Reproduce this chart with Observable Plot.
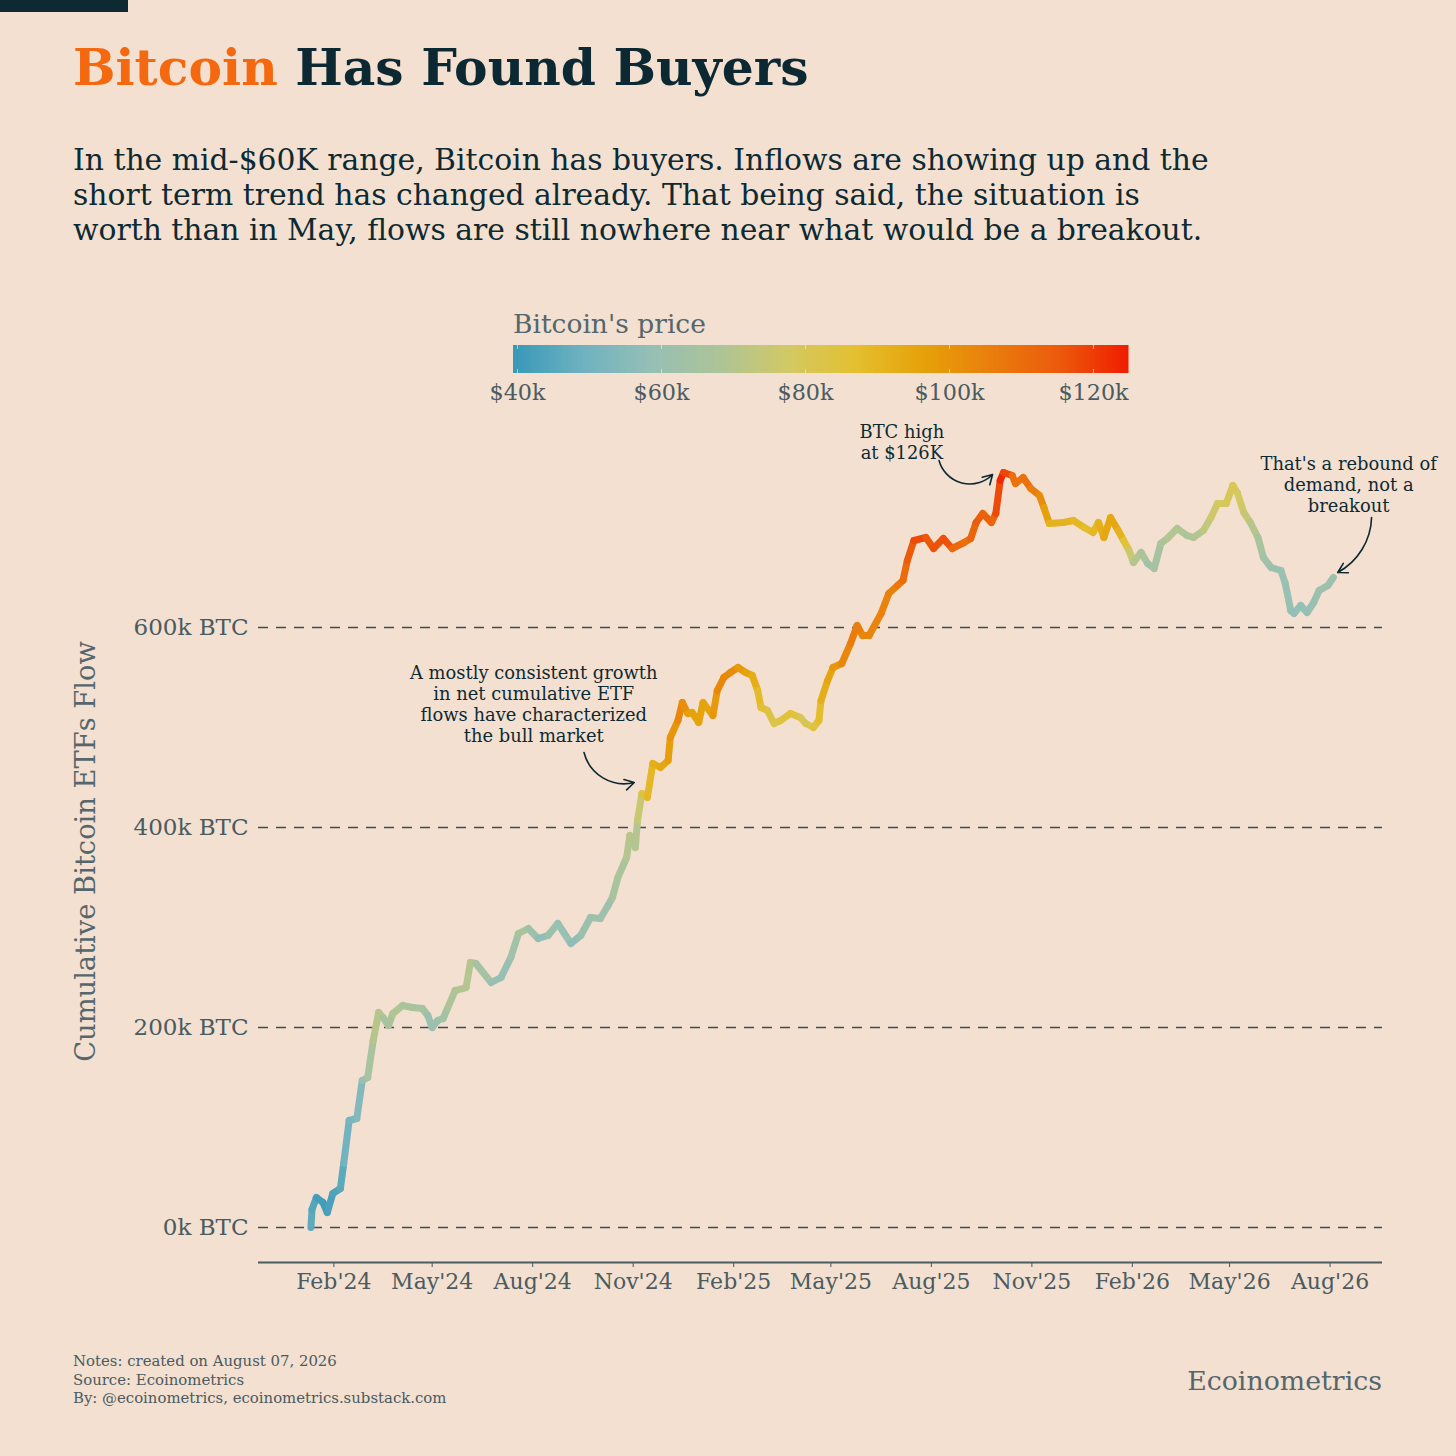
<!DOCTYPE html>
<html>
<head>
<meta charset="utf-8">
<script src="https://cdn.jsdelivr.net/npm/d3@7"></script>
<script src="https://cdn.jsdelivr.net/npm/@observablehq/plot@0.6"></script>
<style>
  body { margin: 0; background: #f3e0d0; }
  #page { position: relative; width: 1456px; height: 1456px; background: #f3e0d0;
          font-family: "DejaVu Serif", serif; color: #0d2a33; overflow: hidden; }
  .abs { position: absolute; white-space: nowrap; }
</style>
</head>
<body>
<div id="page">
  <div class="abs" style="left:0;top:0;width:128px;height:12px;background:#0d2a33"></div>
  <div class="abs" id="title" style="left:73px;top:38px;font-size:50.3px;line-height:60px;font-weight:bold;color:#0b2833">
    <span style="color:#f4690f">Bitcoin</span> Has Found Buyers</div>
  <div class="abs" id="sub" style="left:73px;top:142px;font-size:29.8px;line-height:35px">
    In the mid-$60K range, Bitcoin has buyers. Inflows are showing up and the<br>
    short term trend has changed already. That being said, the situation is<br>
    worth than in May, flows are still nowhere near what would be a breakout.</div>
  <div class="abs" style="left:513px;top:309px;font-size:26.5px;line-height:30px;color:#55666c">Bitcoin's price</div>
  <div class="abs" id="legend" style="left:480.5px;top:343px"></div>
  <div class="abs" id="vis" style="left:0;top:420px"></div>
  <div class="abs" style="left:73px;top:1352px;font-size:14.9px;line-height:18.5px;color:#4a5a60">
    Notes: created on August 07, 2026<br>Source: Ecoinometrics<br>By: @ecoinometrics, ecoinometrics.substack.com</div>
  <div class="abs" style="right:74px;top:1366px;font-size:26.8px;line-height:30px;color:#55666c">Ecoinometrics</div>
</div>
<script>
// cumulative spot bitcoin ETF flows (k BTC) and bitcoin price (k USD)
const dates = [
  "2024-01-11","2024-01-12","2024-01-16","2024-01-22","2024-01-26","2024-01-31","2024-02-07","2024-02-10",
  "2024-02-15","2024-02-22","2024-02-27","2024-03-03","2024-03-08","2024-03-13","2024-03-17","2024-03-22",
  "2024-03-26","2024-04-04","2024-04-13","2024-04-22","2024-04-27","2024-05-01","2024-05-06","2024-05-11",
  "2024-05-15","2024-05-22","2024-06-01","2024-06-05","2024-06-10","2024-06-24","2024-07-03","2024-07-12",
  "2024-07-19","2024-07-28","2024-08-06","2024-08-15","2024-08-24","2024-09-05","2024-09-14","2024-09-23",
  "2024-10-02","2024-10-09","2024-10-13","2024-10-18","2024-10-26","2024-10-29","2024-11-03","2024-11-05",
  "2024-11-09","2024-11-14","2024-11-19","2024-11-26","2024-12-03","2024-12-05","2024-12-12","2024-12-16",
  "2024-12-21","2024-12-25","2024-12-31","2025-01-04","2025-01-13","2025-01-17","2025-01-23","2025-01-29",
  "2025-02-05","2025-02-12","2025-02-18","2025-02-23","2025-02-26","2025-03-04","2025-03-10","2025-03-16",
  "2025-03-25","2025-04-03","2025-04-08","2025-04-15","2025-04-20","2025-04-22","2025-04-28","2025-05-03",
  "2025-05-11","2025-05-19","2025-05-25","2025-05-30","2025-06-05","2025-06-16","2025-06-23","2025-07-01",
  "2025-07-06","2025-07-10","2025-07-16","2025-07-27","2025-08-03","2025-08-12","2025-08-20","2025-08-31",
  "2025-09-06","2025-09-11","2025-09-17","2025-09-25","2025-09-29","2025-10-03","2025-10-06","2025-10-14",
  "2025-10-17","2025-10-24","2025-10-31","2025-11-08","2025-11-12","2025-11-17","2025-11-30","2025-12-09",
  "2025-12-19","2025-12-27","2026-01-01","2026-01-06","2026-01-12","2026-01-19","2026-01-24","2026-01-29",
  "2026-02-02","2026-02-09","2026-02-15","2026-02-21","2026-02-27","2026-03-05","2026-03-14","2026-03-23",
  "2026-03-29","2026-04-07","2026-04-14","2026-04-20","2026-04-28","2026-05-04","2026-05-08","2026-05-14",
  "2026-05-20","2026-05-27","2026-06-01","2026-06-08","2026-06-17","2026-06-21","2026-06-26","2026-06-29",
  "2026-07-05","2026-07-11","2026-07-17","2026-07-22","2026-07-30","2026-08-04"
];
const flowK = [
  0, 18, 30, 25, 15, 34, 39, 64,
  107, 109, 147, 150, 187, 215, 210, 202,
  214, 222, 220, 219, 212, 200, 207, 209,
  219, 237, 240, 265, 264, 245, 250, 270,
  294, 299, 289, 292, 304, 284, 292, 310,
  309, 322, 330, 350, 370, 392, 380, 407,
  434, 430, 464, 460, 467, 490, 507, 525,
  514, 515, 505, 525, 512, 537, 550, 555,
  560, 555, 552, 537, 520, 517, 504, 507,
  514, 510, 504, 500, 507, 527, 547, 560,
  564, 584, 602, 592, 592, 614, 634, 642,
  647, 667, 687, 690, 679, 689, 679, 685,
  689, 705, 714, 705, 714, 747, 755, 752,
  744, 750, 739, 732, 720, 704, 705, 707,
  700, 695, 705, 690, 710, 697, 687, 677,
  665, 675, 664, 659, 684, 689, 699, 692,
  690, 697, 710, 724, 724, 742, 735, 715,
  705, 690, 670, 660, 657, 644, 617, 614,
  622, 615, 625, 637, 642, 650
];
const priceK = [
  46, 46, 43, 40, 42, 43, 44, 47,
  52, 51, 57, 63, 68, 73, 68, 64,
  70, 68, 66, 66, 63, 58, 63, 61,
  66, 70, 68, 71, 69, 60, 58, 60,
  66, 68, 56, 58, 64, 55, 59, 63,
  61, 62, 63, 68, 67, 72, 69, 70,
  80, 88, 92, 93, 96, 99, 101, 106,
  97, 98, 94, 98, 94, 104, 103, 104,
  100, 97, 95, 91, 86, 87, 80, 83,
  87, 83, 78, 84, 85, 91, 95, 96,
  103, 105, 108, 104, 103, 106, 104, 107,
  109, 113, 118, 118, 114, 120, 114, 109,
  111, 114, 116, 111, 114, 122, 125, 113,
  107, 111, 109, 103, 101, 93, 90, 92,
  88, 88, 92, 93, 96, 94, 89, 81,
  70, 69, 64, 63, 67, 69, 70, 68,
  67, 71, 75, 78, 79, 81, 80, 76,
  72, 68, 64, 62, 60, 60, 59, 58,
  59, 58, 60, 61, 62, 61
];

const gridTicks = [0, 200, 400, 600];
const xTickDates = ["2024-02-01","2024-05-01","2024-08-01","2024-11-01","2025-02-01","2025-05-01",
  "2025-08-01","2025-11-01","2026-02-01","2026-05-01","2026-08-01"];
const legendTicks = [40, 60, 80, 100, 120];
const priceColors = ["#3899b8","#6fb2c0","#96bfb6","#adc498","#d2c966","#e4c030",
  "#e6a20a","#ea7e0c","#ec5a0c","#f01e00"];

const noteText = [
  "A mostly consistent growth\nin net cumulative ETF\nflows have characterized\nthe bull market",
  "BTC high\nat $126K",
  "That's a rebound of\ndemand, not a\nbreakout"
];
const noteDate = ["2024-08-02", "2025-07-05", "2026-08-18"];
const noteFlow = [524, 786, 743];
const arrowFrom = [["2024-09-17", 475], ["2025-08-08", 767], ["2026-09-08", 710]];
const arrowTo = [["2024-11-02", 445], ["2025-09-26", 753], ["2026-08-08", 655]];
const arrowBend = [-45, -60, 30];

const day = d3.utcParse("%Y-%m-%d");
const ink = "#0d2a33", grey = "#4a5b61";

const colorOpts = {
  type: "linear",
  domain: [39.5, 125],
  interpolate: d3.piecewise(d3.interpolateRgb, priceColors)
};

const segs = d3.range(dates.length - 1).map(i => ({
  x1: day(dates[i]), y1: flowK[i],
  x2: day(dates[i + 1]), y2: flowK[i + 1],
  price: (priceK[i] + priceK[i + 1]) / 2
}));
const notes = noteText.map((t, i) => ({text: t, date: day(noteDate[i]), flow: noteFlow[i]}));
const arrows = arrowFrom.map((a, i) => ({
  x1: day(a[0]), y1: a[1], x2: day(arrowTo[i][0]), y2: arrowTo[i][1], bend: arrowBend[i]
}));

let legend = Plot.legend({
  color: colorOpts,
  width: 680,
  height: 66,
  marginLeft: 32,
  marginRight: 32.5,
  marginTop: 2,
  marginBottom: 36,
  tickSize: 8,
  ticks: legendTicks,
  tickFormat: d => `$${d}k`,
  style: {fontSize: "22.3px", fontFamily: "DejaVu Serif", color: grey, background: "transparent"}
});
d3.select(legend).selectAll(".tick line")
  .attr("stroke", "#f3e0d0").attr("stroke-opacity", 0.7)
  .attr("y2", 0).attr("stroke-dasharray", "4 20 4");
d3.select('#legend').append(() => legend);

let chart = Plot.plot({
  width: 1456,
  height: 892,
  marginLeft: 258,
  marginRight: 74,
  marginTop: 20,
  marginBottom: 50,
  x: {type: "utc", domain: [day("2023-11-24"), day("2026-09-18")]},
  y: {domain: [-35, 787]},
  color: colorOpts,
  style: {
    fontSize: "22px",
    fontFamily: "DejaVu Serif",
    color: grey,
    background: "transparent",
  },
  marks: [
    Plot.ruleY(gridTicks, {stroke: "#3e4c52", strokeWidth: 1.6, strokeDasharray: "10,8"}),
    Plot.ruleY([-35], {stroke: grey, strokeWidth: 2}),
    Plot.axisX({
      ticks: xTickDates.map(day),
      tickFormat: d3.utcFormat("%b'%y"),
      tickSize: 5,
      tickPadding: 6,
      fontSize: 22,
      label: null,
    }),
    Plot.axisY({
      ticks: gridTicks,
      tickFormat: d => d + "k BTC",
      tickSize: 0,
      tickPadding: 10,
      fontSize: 23,
      label: null,
    }),
    Plot.text(["Cumulative Bitcoin ETFs Flow"], {
      frameAnchor: "left", textAnchor: "middle", dx: -172, rotate: -90,
      fontSize: 27.3, fill: "#55666c"
    }),
    Plot.link(segs, {
      x1: "x1", y1: "y1", x2: "x2", y2: "y2",
      stroke: "price", strokeWidth: 7, strokeLinecap: "round"
    }),
    Plot.text(notes, {
      x: "date", y: "flow", text: "text",
      fontSize: 17.9, lineHeight: 1.17, fill: ink
    }),
    ...arrows.map(a => Plot.arrow([a], {
      x1: "x1", y1: "y1", x2: "x2", y2: "y2", bend: a.bend,
      stroke: ink, strokeWidth: 1.6, headLength: 10
    })),
  ],
});
d3.select('#vis').append(() => chart);
</script>
</body>
</html>
